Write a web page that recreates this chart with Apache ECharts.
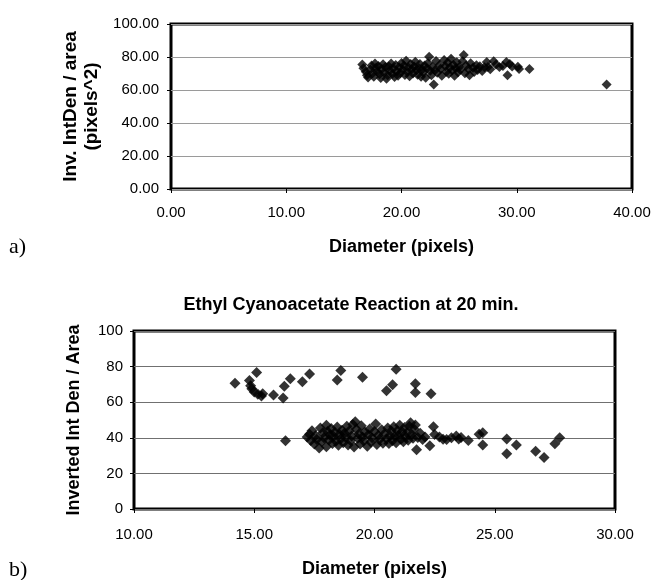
<!DOCTYPE html>
<html>
<head>
<meta charset="utf-8">
<script src="https://cdn.jsdelivr.net/npm/echarts@6/dist/echarts.min.js"></script>
<style>
html,body{margin:0;padding:0;background:#fff;}
#chart{width:654px;height:580px;}
</style>
</head>
<body>
<div id="chart"></div>
<script>
// ---- Data: panel a) ----
const topXName = 'Diameter (pixels)';
const topYName = 'Inv. IntDen / area\n(pixels^2)';
const topXTicks = [0, 10, 20, 30, 40];
const topYTicks = [0, 20, 40, 60, 80, 100];
const topPoints = [
  [16.6,75.5],[16.7,73.2],[16.9,71.0],[17.0,69.0],[17.1,67.6],[17.3,72.5],[17.4,74.8],[17.5,70.2],
  [17.6,68.1],[17.7,76.0],[17.8,73.5],[17.9,71.2],[18.0,74.6],[18.1,69.5],[18.2,67.3],[18.3,72.8],
  [18.4,75.6],[18.5,70.6],[18.6,73.9],[18.7,66.8],[18.8,68.9],[18.9,74.3],[19.0,71.8],[19.1,76.0],
  [19.2,69.7],[19.3,73.1],[19.4,67.9],[19.5,75.2],[19.6,71.4],[19.7,68.6],[19.8,73.8],[19.9,70.3],
  [20.0,76.4],[20.1,72.2],[20.2,74.7],[20.3,69.1],[20.4,77.8],[20.5,71.0],[20.6,73.6],[20.7,68.4],
  [20.8,75.7],[20.9,72.6],[21.0,70.0],[21.1,74.2],[21.2,77.1],[21.3,71.9],[21.4,69.3],[21.5,73.3],
  [21.6,75.8],[21.7,68.0],[21.8,72.4],[21.9,70.5],[22.0,74.9],[22.1,67.5],[22.2,73.0],[22.3,76.3],
  [22.4,80.2],[22.5,71.6],[22.6,69.0],[22.7,74.1],[22.8,63.4],[22.9,72.0],[23.0,77.6],[23.1,70.4],
  [23.3,75.1],[23.4,72.9],[23.5,68.7],[23.7,78.2],[23.8,74.4],[23.9,71.1],[24.0,76.6],[24.1,69.9],
  [24.2,73.7],[24.3,78.9],[24.4,71.8],[24.5,75.3],[24.6,68.6],[24.7,73.2],[24.8,76.8],[24.9,70.7],
  [25.0,74.0],[25.1,72.3],[25.3,77.4],[25.4,81.2],[25.5,70.1],[25.6,74.8],[25.8,72.7],[25.9,68.9],
  [26.0,76.2],[26.2,73.5],[26.3,70.9],[26.5,75.0],[26.6,72.1],[26.8,74.4],[27.0,71.5],[27.2,73.8],
  [27.4,77.0],[27.5,74.0],[27.7,72.6],[28.0,77.5],[28.2,75.4],[28.5,73.9],[28.8,74.6],[29.1,77.0],
  [29.2,69.0],[29.4,75.8],[29.6,74.2],[30.1,74.1],[30.2,72.7],[31.1,72.7],[37.8,63.4]
];

// ---- Data: panel b) ----
const bottomTitle = 'Ethyl Cyanoacetate Reaction at 20 min.';
const bottomXName = 'Diameter (pixels)';
const bottomYName = 'Inverted Int Den / Area';
const bottomXTicks = [10, 15, 20, 25, 30];
const bottomYTicks = [0, 20, 40, 60, 80, 100];
const bottomPoints = [
  [14.2,70.7],[14.8,72.2],[14.85,69.3],[14.9,67.5],[15.0,65.8],[15.1,76.7],[15.15,64.5],[15.3,63.5],
  [15.35,64.8],[15.8,64.0],[16.2,62.3],[16.25,69.0],[16.5,73.2],[17.0,71.5],[17.3,75.8],[18.45,72.5],
  [18.6,77.8],[19.5,74.0],[20.5,66.4],[20.75,69.8],[20.9,78.5],[21.7,70.4],[21.7,65.5],[22.35,64.7],
  [16.3,38.4],
  [17.2,40.5],[17.3,42.0],[17.35,38.5],[17.4,44.0],[17.5,36.5],[17.55,41.2],[17.6,39.0],[17.7,34.2],
  [17.75,45.5],[17.8,37.8],[17.85,42.8],[17.9,40.0],[18.0,47.0],[18.0,35.0],[18.05,43.5],[18.1,38.8],
  [18.15,41.5],[18.2,45.2],[18.25,36.8],[18.3,40.8],[18.35,43.0],[18.4,38.0],[18.45,46.0],[18.5,35.8],
  [18.55,41.8],[18.6,39.5],[18.65,44.3],[18.7,37.2],[18.75,42.5],[18.8,40.2],[18.85,46.5],[18.9,36.0],
  [18.95,43.8],[19.0,38.5],[19.05,41.0],[19.1,47.5],[19.15,34.8],[19.2,49.0],[19.25,44.8],[19.3,39.8],
  [19.35,42.2],[19.4,36.5],[19.45,46.8],[19.5,40.5],[19.55,38.2],[19.6,43.2],[19.7,35.2],[19.75,41.7],
  [19.8,45.0],[19.85,37.5],[19.9,40.0],[20.0,43.5],[20.05,47.8],[20.1,36.2],[20.15,41.3],[20.2,39.0],
  [20.3,44.5],[20.35,37.0],[20.4,42.0],[20.5,39.5],[20.55,45.5],[20.6,36.8],[20.65,41.0],[20.7,43.8],
  [20.75,38.3],[20.8,46.2],[20.85,40.8],[20.9,37.2],[20.95,44.0],[21.0,41.5],[21.05,47.0],[21.1,39.2],
  [21.15,43.2],[21.2,37.8],[21.25,45.8],[21.3,40.5],[21.35,42.8],[21.4,38.6],[21.45,46.5],[21.5,48.5],
  [21.55,41.8],[21.6,39.8],[21.65,44.8],[21.7,47.2],[21.75,33.3],[21.8,40.2],[21.9,42.5],[22.0,39.0],
  [22.1,40.5],[22.3,35.6],[22.45,46.2],[22.5,41.8],[22.7,40.5],[22.85,39.2],[23.0,39.0],[23.2,40.0],
  [23.4,41.0],[23.5,39.3],[23.6,40.2],[23.9,38.5],[24.35,42.0],[24.5,42.8],[24.5,36.0],[25.5,39.3],
  [25.5,31.0],[25.9,36.0],[26.7,32.5],[27.05,29.0],[27.5,36.7],[27.7,40.0]
];

const panelLabels = ['a)', 'b)'];

// ---- Chart ----
const FONT = "'Liberation Sans', Arial, sans-serif";
const SERIF = "'Liberation Serif', 'Times New Roman', serif";
const chart = echarts.init(document.getElementById('chart'), null, {renderer: 'canvas'});

function makeAxis(ticks, fmt, labelMargin, gridIndex, name, nameGap, nameSize, splitColor) {
  return {
    type: 'value',
    gridIndex: gridIndex,
    min: ticks[0],
    max: ticks[ticks.length - 1],
    interval: ticks[1] - ticks[0],
    name: name,
    nameLocation: 'middle',
    nameGap: nameGap,
    nameTextStyle: {color: '#000', fontFamily: FONT, fontWeight: 'bold', fontSize: nameSize, lineHeight: nameSize + 2},
    axisLine: {show: false},
    axisTick: {show: true, inside: false, length: 4, lineStyle: {color: '#000', width: 1}},
    axisLabel: {color: '#000', fontFamily: FONT, fontSize: 15, margin: labelMargin, formatter: fmt},
    splitLine: splitColor ? {show: true, lineStyle: {color: splitColor, width: 1}} : {show: false}
  };
}
const fmt2 = v => v.toFixed(2);
const fmt0 = v => String(v);

const option = {
  backgroundColor: '#fff',
  animation: false,
  title: [{
    text: bottomTitle,
    left: 346,
    top: 291,
    textAlign: 'center',
    textStyle: {fontFamily: FONT, fontWeight: 'bold', fontSize: 18, color: '#000'}
  }],
  grid: [
    {left: 171, top: 24, width: 461, height: 165, show: true, borderColor: '#000', borderWidth: 3, backgroundColor: 'transparent'},
    {left: 134, top: 331, width: 481, height: 182, show: true, borderColor: '#000', borderWidth: 3, backgroundColor: 'transparent'}
  ],
  xAxis: [
    makeAxis(topXTicks, fmt2, 16, 0, topXName, 48, 18, null),
    makeAxis(bottomXTicks, fmt2, 18, 1, bottomXName, 50, 18, null)
  ],
  yAxis: [
    makeAxis(topYTicks, fmt2, 12, 0, topYName, 64, 19, '#9a9a9a'),
    makeAxis(bottomYTicks, fmt0, 11, 1, bottomYName, 50, 18, '#707070')
  ],
  series: [
    {type: 'scatter', xAxisIndex: 0, yAxisIndex: 0, data: topPoints, symbol: 'diamond', symbolSize: 10,
     itemStyle: {color: '#000'}},
    {type: 'scatter', xAxisIndex: 1, yAxisIndex: 1, data: bottomPoints, symbol: 'diamond', symbolSize: 11,
     itemStyle: {color: '#000'}}
  ],
  graphic: [
    {type: 'text', left: 9, top: 236, style: {text: panelLabels[0], fontFamily: SERIF, fontSize: 22, fill: '#000'}},
    {type: 'text', left: 9, top: 559, style: {text: panelLabels[1], fontFamily: SERIF, fontSize: 22, fill: '#000'}}
  ]
};
chart.setOption(option);
</script>
</body>
</html>
